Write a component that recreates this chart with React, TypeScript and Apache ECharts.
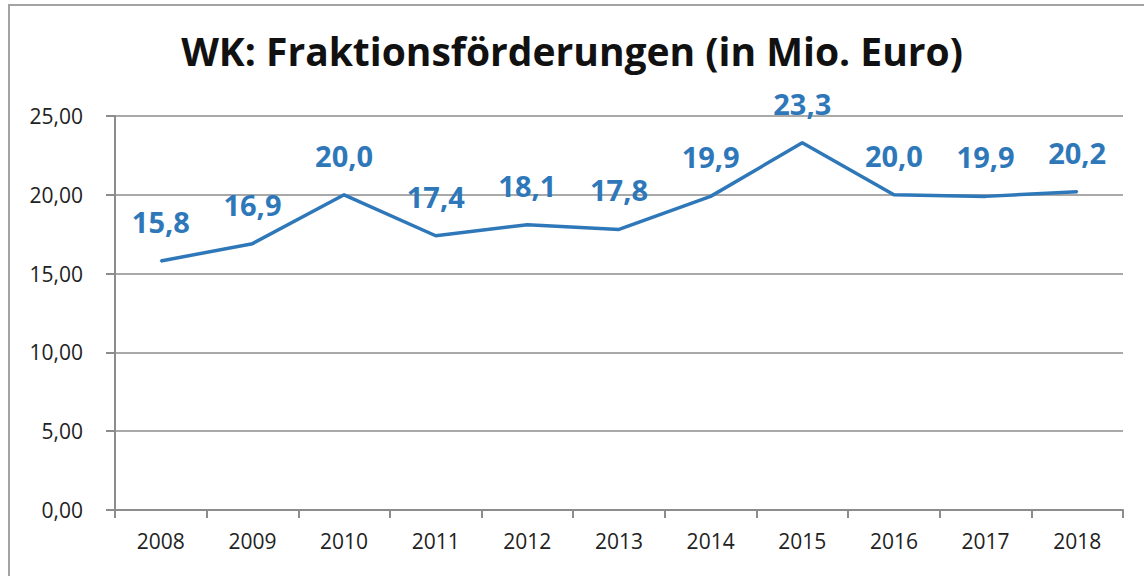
import React, { useEffect, useRef } from "react";
import * as echarts from "echarts";

const title = "WK: Fraktionsförderungen (in Mio. Euro)";
const years = ["2008", "2009", "2010", "2011", "2012", "2013", "2014", "2015", "2016", "2017", "2018"];
const values = [15.8, 16.9, 20.0, 17.4, 18.1, 17.8, 19.9, 23.3, 20.0, 19.9, 20.2];
const yTicks = [0, 5, 10, 15, 20, 25];

const fmt = (v: number, d: number) => v.toFixed(d).replace(".", ",");

export default function App() {
  const ref = useRef<HTMLDivElement>(null);
  useEffect(() => {
    if (!ref.current) return;
    const chart = echarts.init(ref.current, undefined, { renderer: "svg" });
    chart.setOption({
      animation: false,
      backgroundColor: "#ffffff",
      graphic: [
        {
          type: "rect",
          shape: { x: 9, y: 5, width: 1200, height: 700 },
          style: { fill: "none", stroke: "#a3a3a3", lineWidth: 2 },
          silent: true,
        },
      ],
      title: {
        text: title,
        left: "center",
        top: 26,
        textStyle: { fontFamily: "Open Sans", fontWeight: "bold", fontSize: 39, color: "#111" },
      },
      grid: { left: 115, right: 21, top: 116, bottom: 66 },
      xAxis: {
        type: "category",
        data: years,
        boundaryGap: true,
        axisLine: { lineStyle: { color: "#8c8c8c", width: 2 } },
        axisTick: { show: true, length: 8, lineStyle: { color: "#8c8c8c", width: 2 } },
        axisLabel: { color: "#222", fontFamily: "Open Sans", fontSize: 21, margin: 20 },
      },
      yAxis: {
        type: "value",
        min: yTicks[0],
        max: yTicks[yTicks.length - 1],
        interval: 5,
        axisLine: { show: true, lineStyle: { color: "#8c8c8c", width: 2 } },
        axisTick: { show: true, length: 9, lineStyle: { color: "#8c8c8c", width: 2 } },
        splitLine: { lineStyle: { color: "#8c8c8c", width: 1.5 } },
        axisLabel: {
          color: "#222",
          fontFamily: "Open Sans",
          fontSize: 21,
          margin: 32,
          formatter: (v: number) => fmt(v, 2),
        },
      },
      series: [
        {
          type: "line",
          data: values,
          symbol: "circle",
          symbolSize: 2,
          showSymbol: true,
          itemStyle: { color: "#2E78BA" },
          lineStyle: { color: "#2E78BA", width: 3.5 },
          labelLayout: { hideOverlap: false },
          label: {
            show: true,
            position: "top",
            distance: 24,
            color: "#2E78BA",
            fontFamily: "Open Sans",
            fontWeight: "bold",
            fontSize: 29,
            formatter: (p: any) => fmt(p.value, 1),
          },
        },
      ],
    });
    return () => chart.dispose();
  }, []);
  return <div ref={ref} style={{ width: 1144, height: 576, position: "absolute", left: 0, top: 0 }} />;
}
